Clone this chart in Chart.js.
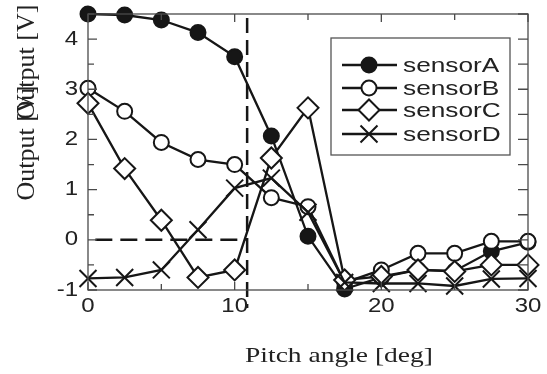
<!DOCTYPE html>
<html>
<head>
<meta charset="utf-8">
<script src="https://cdn.jsdelivr.net/npm/chart.js@4/dist/chart.umd.min.js"></script>
<style>
  html, body { margin: 0; padding: 0; background: #fff; }
  #chart { display: block; }
</style>
</head>
<body>
<canvas id="chart" width="547" height="374"></canvas>
<script>
// pitch angles [deg]
const angles = [0, 2.5, 5, 7.5, 10, 12.5, 15, 17.5, 20, 22.5, 25, 27.5, 30];
// sensor outputs [V]
const sensorA = [4.5, 4.48, 4.38, 4.13, 3.65, 2.07, 0.07, -0.98, -0.75, -0.6, -0.62, -0.23, -0.05];
const sensorB = [3.02, 2.56, 1.94, 1.6, 1.5, 0.84, 0.66, -0.85, -0.6, -0.27, -0.27, -0.03, -0.03];
const sensorC = [2.72, 1.42, 0.39, -0.75, -0.6, 1.63, 2.63, -0.8, -0.73, -0.6, -0.63, -0.5, -0.5];
const sensorD = [-0.77, -0.75, -0.6, 0.2, 1.03, 1.23, 0.55, -0.85, -0.87, -0.87, -0.92, -0.78, -0.77];
const seriesNames = ['sensorA', 'sensorB', 'sensorC', 'sensorD'];

// tick labels
const xTicks = [0, 10, 20, 30];
const yTicks = [-1, 0, 1, 2, 3, 4];

// dashed guide lines
const cutoffAngle = 10.85;
const guideV = [{x: cutoffAngle, y: 4.42}, {x: cutoffAngle, y: -1.36}];
const guideH = [{x: 0.5, y: 0}, {x: cutoffAngle, y: 0}];

const ink = '#161616';
const toXY = vals => vals.map((v, i) => ({x: angles[i], y: v}));

const styles = [
  {pointStyle: 'circle', radius: 7.5, fill: ink},
  {pointStyle: 'circle', radius: 7.5, fill: '#fff'},
  {pointStyle: 'rectRot', radius: 10.5, fill: '#fff'},
  {pointStyle: 'crossRot', radius: 12, fill: '#fff'}
];

const sensorSets = [sensorA, sensorB, sensorC, sensorD].map((vals, i) => ({
  label: seriesNames[i],
  data: toXY(vals),
  order: 4 - i, // sensorA at the bottom, sensorD on top
  borderColor: ink,
  borderWidth: 2.3,
  pointStyle: styles[i].pointStyle,
  pointRadius: styles[i].radius,
  pointBackgroundColor: styles[i].fill,
  pointBorderColor: ink,
  pointBorderWidth: 2,
  clip: false
}));

const guideSet = (pts, dash) => ({
  label: '',
  data: pts,
  order: 0,
  borderColor: ink,
  borderWidth: 2.5,
  borderDash: dash,
  pointRadius: 0,
  clip: false
});

// frame, inward ticks, tick labels, axis titles, legend
const decor = {
  id: 'decor',
  afterDatasetsDraw(chart) {
    const {ctx, chartArea: a, scales: {x, y}} = chart;
    ctx.save();
    ctx.setLineDash([]);
    ctx.strokeStyle = '#4a4a4a';
    ctx.lineWidth = 1.3;
    ctx.strokeRect(a.left, a.top, a.right - a.left, a.bottom - a.top);

    ctx.beginPath();
    for (let v = 0; v <= 30; v += 5) {
      const px = x.getPixelForValue(v);
      const len = v % 10 === 0 ? 8 : 6;
      ctx.moveTo(px, a.bottom); ctx.lineTo(px, a.bottom - len);
      ctx.moveTo(px, a.top); ctx.lineTo(px, a.top + len);
    }
    for (let v = -1; v <= 4.5; v += 0.5) {
      const py = y.getPixelForValue(v);
      const len = Number.isInteger(v) ? 9 : 6;
      ctx.moveTo(a.left, py); ctx.lineTo(a.left + len, py);
      ctx.moveTo(a.right, py); ctx.lineTo(a.right - 10, py);
    }
    ctx.stroke();
    ctx.restore();
  },
  afterDraw(chart) {
    const {ctx, chartArea: a, scales: {x, y}} = chart;
    const stretchText = (txt, px, py, align, sx) => {
      ctx.save();
      ctx.translate(px, py);
      ctx.scale(sx, 1);
      ctx.textAlign = align;
      ctx.fillText(txt, 0, 0);
      ctx.restore();
    };

    ctx.save();
    ctx.setLineDash([]);
    ctx.fillStyle = '#222';
    ctx.font = '20px "Liberation Sans", Arial, sans-serif';
    ctx.textBaseline = 'middle';
    yTicks.forEach(v => stretchText(String(v), a.left - 10, y.getPixelForValue(v), 'right', 1.2));
    xTicks.forEach(v => stretchText(String(v), x.getPixelForValue(v), a.bottom + 16, 'center', 1.2));

    // axis titles
    ctx.font = '22px "Liberation Serif", "Times New Roman", serif';
    stretchText('Pitch angle [deg]', 339, 356, 'center', 1.25);
    ctx.font = '26px "Liberation Serif", "Times New Roman", serif';
    [143, 62].forEach(cy => {
      ctx.save();
      ctx.translate(27, cy);
      ctx.rotate(-Math.PI / 2);
      ctx.textAlign = 'center';
      ctx.fillText('Output [V]', 0, 0);
      ctx.restore();
    });

    // legend
    const box = {l: 331, t: 38, r: 510, b: 155};
    ctx.fillStyle = '#fff';
    ctx.fillRect(box.l, box.t, box.r - box.l, box.b - box.t);
    ctx.strokeStyle = '#555';
    ctx.lineWidth = 1.3;
    ctx.strokeRect(box.l, box.t, box.r - box.l, box.b - box.t);
    const rows = [65, 88, 110, 134];
    ctx.font = '21px "Liberation Sans", Arial, sans-serif';
    ctx.textBaseline = 'middle';
    sensorSets.forEach((ds, i) => {
      const ry = rows[i];
      ctx.strokeStyle = ink;
      ctx.lineWidth = 2.3;
      ctx.beginPath();
      ctx.moveTo(342, ry); ctx.lineTo(397, ry);
      ctx.stroke();
      ctx.fillStyle = ds.pointBackgroundColor;
      ctx.lineWidth = 2;
      Chart.helpers.drawPoint(ctx, {
        pointStyle: ds.pointStyle,
        radius: ds.pointRadius,
        borderWidth: 2,
        rotation: 0
      }, 369, ry);
      ctx.fillStyle = '#222';
      stretchText(ds.label, 403, ry + 1, 'left', 1.25);
    });
    ctx.restore();
  }
};

new Chart(document.getElementById('chart'), {
  type: 'line',
  data: {
    datasets: [...sensorSets, guideSet(guideV, [15, 7]), guideSet(guideH, [17, 8])]
  },
  options: {
    responsive: false,
    animation: false,
    layout: {padding: {top: 14, right: 19, left: 0, bottom: 0}},
    plugins: {
      legend: {display: false},
      tooltip: {enabled: false}
    },
    scales: {
      x: {
        type: 'linear',
        min: 0,
        max: 30,
        grid: {display: false},
        border: {display: false},
        ticks: {display: false},
        afterFit: s => { s.height = 84; }
      },
      y: {
        type: 'linear',
        min: -1,
        max: 4.5,
        grid: {display: false},
        border: {display: false},
        ticks: {display: false},
        afterFit: s => { s.width = 88; }
      }
    }
  },
  plugins: [decor]
});
</script>
</body>
</html>
